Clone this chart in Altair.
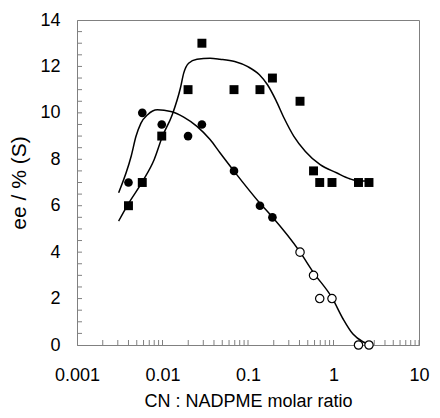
import altair as alt
import pandas as pd

# CN : NADPME molar ratio (shared by both series)
ratio = [0.004, 0.0058, 0.0098, 0.0199, 0.0289, 0.0686, 0.138, 0.193,
         0.406, 0.584, 0.69, 0.96, 1.96, 2.6]
ee_square = [6, 7, 9, 11, 13, 11, 11, 11.5, 10.5, 7.5, 7, 7, 7, 7]

ratio_filled = [0.004, 0.0058, 0.0098, 0.0199, 0.0289, 0.0686, 0.138, 0.193]
ee_filled = [7, 10, 9.5, 9, 9.5, 7.5, 6, 5.5]

ratio_open = [0.406, 0.584, 0.69, 0.96, 1.96, 2.6]
ee_open = [4, 3, 2, 2, 0, 0]

# fitted curves
curve_a_x = [0.00307, 0.0043, 0.0049, 0.0056, 0.0067, 0.0087, 0.0125, 0.0177,
             0.0253, 0.036, 0.047, 0.0686, 0.137, 0.193, 0.403, 0.584, 0.967,
             1.296, 1.689, 2.203, 2.632]
curve_a_y = [6.56, 8.13, 8.99, 9.56, 9.92, 10.13, 10.06, 9.82, 9.42, 8.85,
             8.28, 7.49, 6.12, 5.51, 4.02, 3.12, 2.02, 1.12, 0.47, 0.14, 0.03]

curve_b_x = [0.00307, 0.00395, 0.00587, 0.0080, 0.00999, 0.0130, 0.0162,
             0.0177, 0.0202, 0.0253, 0.036, 0.047, 0.0699, 0.0995, 0.136,
             0.169, 0.211, 0.264, 0.344, 0.469, 0.698, 1.084, 1.547, 2.017, 2.404]
curve_b_y = [5.34, 6.06, 7.06, 7.99, 8.99, 9.92, 11.07, 11.71, 12.14, 12.31,
             12.35, 12.31, 12.21, 11.99, 11.64, 11.21, 10.56, 9.78, 8.99, 8.34,
             7.77, 7.42, 7.16, 7.06, 7.06]

x_labels = [0.001, 0.01, 0.1, 1, 10]
y_labels = [0, 2, 4, 6, 8, 10, 12, 14]
y_ticks = [i * 0.5 for i in range(1, 28)]
x_ticks = [m * 10 ** e for e in range(-3, 1) for m in range(2, 11)]

W, H = 342, 325
GRAY = "#808080"

xscale = alt.Scale(type="log", domain=[0.001, 10], nice=False)
yscale = alt.Scale(domain=[0, 14], nice=False, zero=False)

xaxis = alt.Axis(values=x_labels, format="~g", title="CN : NADPME molar ratio",
                 labelPadding=21, titlePadding=8, labelFlush=False,
                 labelOverlap=False, titleFontSize=18)
yaxis = alt.Axis(values=y_labels, title="ee / % (S)", labelPadding=17,
                 titlePadding=10, labelFlush=False, labelOverlap=False,
                 titleFontSize=21)


def X(field="x"):
    return alt.X(f"{field}:Q", scale=xscale, axis=xaxis)


def Y(field="y"):
    return alt.Y(f"{field}:Q", scale=yscale, axis=yaxis)


df_sq = pd.DataFrame({"x": ratio, "y": ee_square})
df_fc = pd.DataFrame({"x": ratio_filled, "y": ee_filled})
df_oc = pd.DataFrame({"x": ratio_open, "y": ee_open})
df_a = pd.DataFrame({"x": curve_a_x, "y": curve_a_y})
df_b = pd.DataFrame({"x": curve_b_x, "y": curve_b_y})
df_yt = pd.DataFrame({"y": y_ticks})
df_xt = pd.DataFrame({"x": x_ticks})

yt = alt.Chart(df_yt).mark_rule(color=GRAY, strokeWidth=1).encode(
    y=Y(), x=alt.value(0), x2=alt.value(5))
xt = alt.Chart(df_xt).mark_rule(color=GRAY, strokeWidth=1).encode(
    x=X(), y=alt.value(H), y2=alt.value(H - 5))

line_a = alt.Chart(df_a).mark_line(color="black", strokeWidth=1.5,
                                   interpolate="monotone").encode(x=X(), y=Y())
line_b = alt.Chart(df_b).mark_line(color="black", strokeWidth=1.5,
                                   interpolate="monotone").encode(x=X(), y=Y())

sq = alt.Chart(df_sq).mark_point(shape="square", filled=True, color="black",
                                 size=80, opacity=1).encode(x=X(), y=Y())
fc = alt.Chart(df_fc).mark_point(shape="circle", filled=True, color="black",
                                 size=75, opacity=1).encode(x=X(), y=Y())
oc = alt.Chart(df_oc).mark_point(shape="circle", filled=True, fill="white",
                                 stroke="black", strokeWidth=1.2, size=70,
                                 opacity=1).encode(x=X(), y=Y())

chart = alt.layer(yt, xt, line_a, line_b, sq, fc, oc).properties(
    width=W, height=H,
    autosize=alt.AutoSizeParams(type="none"),
    padding={"left": 69, "top": 12, "right": 13, "bottom": 65},
).configure_view(stroke=GRAY, strokeWidth=1).configure_axis(
    grid=False, ticks=False, tickSize=0, domainColor=GRAY, domainWidth=1,
    labelFont="Liberation Sans", labelFontSize=18, labelColor="black",
    titleFont="Liberation Sans", titleFontWeight="normal", titleColor="black",
)

chart.save("out.html", embed_options={"renderer": "svg", "actions": False})
